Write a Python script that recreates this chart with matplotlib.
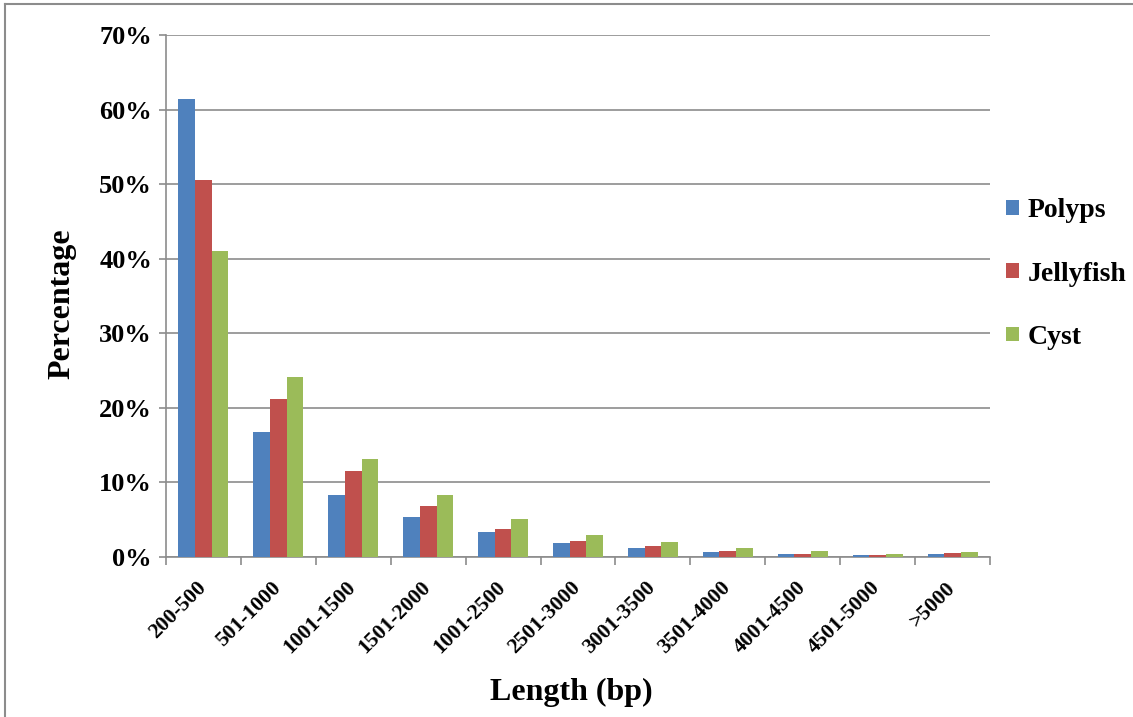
import matplotlib
matplotlib.use("Agg")
import matplotlib.pyplot as plt
import numpy as np
from matplotlib.lines import Line2D
from matplotlib.ticker import FuncFormatter

categories = ["200-500", "501-1000", "1001-1500", "1501-2000", "1001-2500", "2501-3000",
              "3001-3500", "3501-4000", "4001-4500", "4501-5000", ">5000"]
polyps = [61.4, 16.8, 8.3, 5.3, 3.3, 1.9, 1.2, 0.7, 0.4, 0.3, 0.4]
jellyfish = [50.5, 21.2, 11.5, 6.8, 3.75, 2.2, 1.5, 0.8, 0.4, 0.3, 0.55]
cyst = [41.0, 24.2, 13.1, 8.3, 5.05, 2.95, 2.0, 1.2, 0.8, 0.4, 0.7]
series = [("Polyps", polyps, "#4F81BD"), ("Jellyfish", jellyfish, "#C0504D"), ("Cyst", cyst, "#9BBB59")]
yticks = [0, 10, 20, 30, 40, 50, 60, 70]

plt.rcParams['font.family'] = ['Liberation Serif', 'DejaVu Serif']
fig = plt.figure(figsize=(11.33, 7.17), dpi=100)
ax = fig.add_axes([166/1133, 1-557/717, (990-166)/1133, (557-35)/717])

x = np.arange(len(categories))
w = 1/4.5
for i, (name, vals, col) in enumerate(series):
    ax.bar(x + (i-1)*w, vals, width=w, color=col, label=name, zorder=3)

ax.set_xlim(-0.5, len(categories)-0.5)
ax.set_ylim(0, 70)
ax.set_yticks(yticks)
ax.yaxis.set_major_formatter(FuncFormatter(lambda v, p: f"{int(v)}%"))
gc = "#8c8c8c"
ax.grid(axis='y', color=gc, linewidth=1.2, zorder=0)
for s in ['top', 'right']:
    ax.spines[s].set_visible(False)
for s in ['left', 'bottom']:
    ax.spines[s].set_color(gc)
    ax.spines[s].set_linewidth(1.2)
ax.tick_params(axis='y', length=5, color=gc, width=1.2, labelsize=19, pad=5)
for lab in ax.get_yticklabels():
    lab.set_fontweight('bold')

ax.set_xticks(x)
ax.set_xticklabels(categories, rotation=45, ha='right', va='center', rotation_mode='anchor',
                   fontsize=15.5, fontweight='bold')
ax.tick_params(axis='x', length=0, pad=20)
ax.set_xticks(np.arange(-0.5, len(categories), 1), minor=True)
ax.tick_params(axis='x', which='minor', length=6, color=gc, width=1.2)

ax.set_ylabel("Percentage", fontsize=23, fontweight='bold', va='center')
ax.yaxis.set_label_coords(-0.126, 0.486)
ax.set_xlabel("Length (bp)", fontsize=23, fontweight='bold', va='center')
ax.xaxis.set_label_coords(0.4915, -0.2586)

leg = ax.legend(loc='center left', bbox_to_anchor=(1.006, 0.542), frameon=False, borderaxespad=0,
                prop={'weight': 'bold', 'size': 20}, handlelength=0.45, handleheight=0.45,
                labelspacing=1.38, handletextpad=0.32)

fig.add_artist(Line2D([5/1133, 5/1133], [0, 1-4/717], color="#8c8c8c", linewidth=1.5))
fig.add_artist(Line2D([5/1133, 1], [1-4/717, 1-4/717], color="#8c8c8c", linewidth=1.5))

fig.savefig("out.png", dpi=100)
